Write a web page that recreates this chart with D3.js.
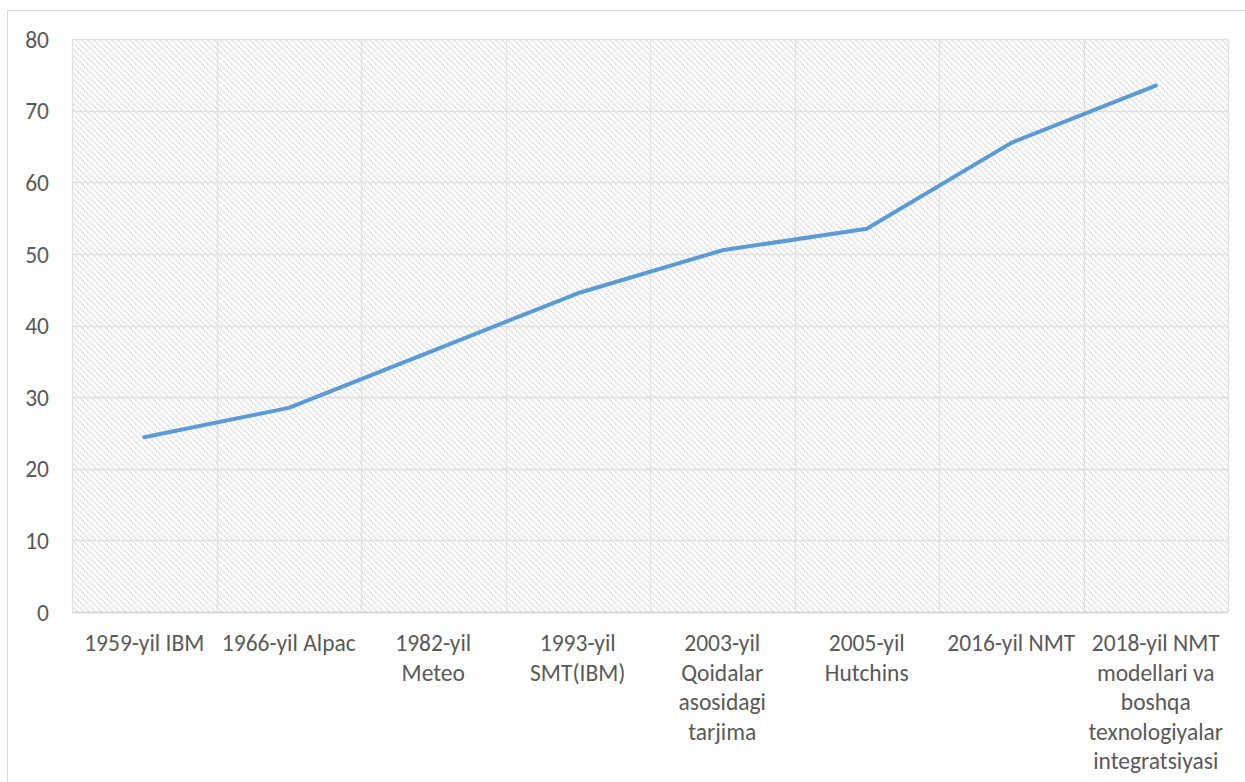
<!DOCTYPE html>
<html><head><meta charset="utf-8">
<script src="https://cdn.jsdelivr.net/npm/d3@7/dist/d3.min.js"></script>
<style>
html,body{margin:0;padding:0;background:#fff;}
svg{display:block;}
text{font-family:Carlito, Lato, "Open Sans", sans-serif;fill:#595959;}
</style></head>
<body><svg id="c" width="1245" height="782"></svg>
<script>
const categories = ["1959-yil IBM","1966-yil Alpac","1982-yil Meteo","1993-yil SMT(IBM)","2003-yil Qoidalar asosidagi tarjima","2005-yil Hutchins","2016-yil NMT","2018-yil NMT modellari va boshqa texnologiyalar integratsiyasi"];
const categoryLines = [["1959-yil IBM"],["1966-yil Alpac"],["1982-yil","Meteo"],["1993-yil","SMT(IBM)"],["2003-yil","Qoidalar","asosidagi","tarjima"],["2005-yil","Hutchins"],["2016-yil NMT"],["2018-yil NMT","modellari va","boshqa","texnologiyalar","integratsiyasi"]];
const values = [24.4, 28.5, 36.5, 44.5, 50.5, 53.5, 65.5, 73.5];
const yTicks = [0,10,20,30,40,50,60,70,80];

const svg = d3.select("#c");
const L = 72, R = 1228, T = 39, B = 612;
const FS = "23.5px";

// outer chart border
svg.append("rect").attr("x",7.5).attr("y",10.5).attr("width",1300).attr("height",900)
  .attr("fill","#fff").attr("stroke","#d9d9d9").attr("stroke-width",1);

const defs = svg.append("defs");
const pat = defs.append("pattern").attr("id","hatch").attr("patternUnits","userSpaceOnUse")
  .attr("width",6).attr("height",6);
pat.append("rect").attr("width",6).attr("height",6).attr("fill","#fff");
pat.append("path").attr("d","M0,0 L6,6 M-3,3 L3,9 M3,-3 L9,3")
  .attr("stroke","#d0d0d0").attr("stroke-width",1.4).attr("stroke-dasharray","1.4,1");

const x = d3.scaleBand().domain(categories).range([L,R]).padding(0);
const y = d3.scaleLinear().domain([0,80]).range([B,T]);

svg.append("rect").attr("x",L).attr("y",T).attr("width",R-L).attr("height",B-T)
  .attr("fill","url(#hatch)");

// horizontal gridlines
svg.append("g").selectAll("line").data(yTicks).join("line")
  .attr("x1",L).attr("x2",R).attr("y1",d=>Math.round(y(d))+0.5).attr("y2",d=>Math.round(y(d))+0.5)
  .attr("stroke","#e0e0e0").attr("stroke-width",1.3);
// vertical gridlines at category boundaries
const bounds = categories.map(c=>x(c)).concat([R]);
svg.append("g").selectAll("line").data(bounds).join("line")
  .attr("x1",d=>Math.round(d)+0.5).attr("x2",d=>Math.round(d)+0.5).attr("y1",T).attr("y2",B)
  .attr("stroke","#e0e0e0").attr("stroke-width",1.3);
// axis baseline
svg.append("line").attr("x1",L).attr("x2",R).attr("y1",B+0.5).attr("y2",B+0.5)
  .attr("stroke","#d4d4d4").attr("stroke-width",1.5);

// y axis labels
const yAxis = d3.axisLeft(y).tickValues(yTicks).tickSize(0).tickPadding(0);
const gy = svg.append("g").attr("transform",`translate(49,0)`).call(yAxis);
gy.attr("font-size",null).attr("font-family",null);
gy.select(".domain").remove();
gy.selectAll("text").style("font-size",FS).style("fill","#595959").attr("dy","0.35em")
  .style("font-family","Carlito, Lato, 'Open Sans', sans-serif");

// x axis labels
const xAxis = d3.axisBottom(x).tickSize(0).tickFormat(()=> "");
const gx = svg.append("g").attr("transform",`translate(0,${B})`).call(xAxis);
gx.attr("font-size",null).attr("font-family",null);
gx.select(".domain").remove();
gx.selectAll(".tick").each(function(d,i){
  const t = d3.select(this).select("text").attr("y",0).attr("dy",null)
    .style("font-size",FS).style("fill","#595959").attr("text-anchor","middle")
    .style("font-family","Carlito, Lato, 'Open Sans', sans-serif");
  categoryLines[i].forEach((ln,k)=>{
    t.append("tspan").attr("x",0).attr("y",39 + k*29.5).text(ln);
  });
});

// line
const line = d3.line().x((d,i)=>x(categories[i])+x.bandwidth()/2).y(d=>y(d));
svg.append("path").datum(values).attr("d",line).attr("fill","none")
  .attr("stroke","#5b9bd5").attr("stroke-width",4).attr("stroke-linejoin","round").attr("stroke-linecap","round");
</script></body></html>
